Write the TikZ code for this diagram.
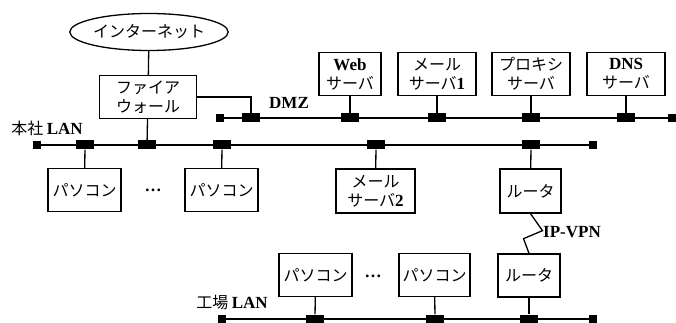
\documentclass[tikz,border=0pt]{standalone}
\usepackage{fontspec}
\setmainfont{Liberation Serif}
\newfontfamily\jp{Noto Sans CJK JP}
\usetikzlibrary{shapes.geometric}
\newcommand\en[1]{{\rmfamily\bfseries\fontsize{17}{19}\selectfont #1}}

\begin{document}
\begin{tikzpicture}[x=1pt, y=-1pt,
    font=\jp\fontsize{16}{19}\selectfont,
    box/.style={rectangle, draw, line width=1.3pt, minimum height=43, inner sep=1pt, align=center},
    lan/.style={line width=2.2pt},
    drop/.style={line width=1.3pt},
    tap/.style={rectangle, fill, minimum width=18, minimum height=9, inner sep=0pt},
    endpt/.style={rectangle, fill, minimum size=8, inner sep=0pt}
]
\useasboundingbox (0,0) rectangle (676,323);

% internet and firewall
\node[ellipse, draw, line width=1.3pt, minimum width=155, minimum height=37, inner sep=0pt] (inet) at (149,32) {インターネット};
\node[box, minimum width=97] (fw) at (148,97) {ファイア\\ウォール};
\draw[drop] (inet) -- (fw);

% DMZ segment
\node[box, minimum width=62] (web) at (350,74) {\en{Web}\\サーバ};
\node[box, minimum width=78] (mail1) at (437,74) {メール\\サーバ\en{1}};
\node[box, minimum width=78] (proxy) at (531,74) {プロキシ\\サーバ};
\node[box, minimum width=78] (dns) at (626,74) {\en{DNS}\\サーバ};

\node[endpt] (dmzL) at (220,118) {};
\node[endpt] (dmzR) at (672,118) {};
\draw[lan] (dmzL) -- (dmzR);
\node[anchor=west, inner sep=0pt] (dmzlbl) at (269,103) {\en{DMZ}};
\foreach \n/\x in {fw/251, web/350, mail1/437, proxy/531, dns/626}
  \node[tap] (dmz-\n) at (\x,118) {};
\draw[drop] (fw.east) -| (dmz-fw);
\foreach \n in {web, mail1, proxy, dns}
  \draw[drop] (\n) -- (dmz-\n);

% head office LAN
\node[endpt] (hqL) at (37,145) {};
\node[endpt] (hqR) at (593,145) {};
\draw[lan] (hqL) -- (hqR);
\node (hqlbl) at (47,128) {本社 \en{LAN}};
\node[box, minimum width=73] (pc1) at (84.5,190) {パソコン};
\node[box, minimum width=73] (pc2) at (221.5,190) {パソコン};
\node (dots1) at (153,190) {\en{\dots}};
\node[box, minimum width=79, minimum height=44] (mail2) at (375.5,191) {メール\\サーバ\en{2}};
\node[box, minimum width=61, minimum height=44] (rt1) at (530.5,191) {ルータ};
\node[tap] (hq-fw) at (147,145) {};
\draw[drop] (fw) -- (hq-fw);
\foreach \n/\x in {pc1/85, pc2/222, mail2/376, rt1/531} {
  \node[tap] (hq-\n) at (\x,145) {};
  \draw[drop] (\n) -- (hq-\n);
}

% factory LAN
\node[endpt] (fcL) at (222,319) {};
\node[endpt] (fcR) at (593,319) {};
\draw[lan] (fcL) -- (fcR);
\node (fclbl) at (232,303) {工場 \en{LAN}};
\node[box, minimum width=73] (pcA) at (315.5,275) {パソコン};
\node[box, minimum width=71] (pcB) at (434.5,275) {パソコン};
\node (dots2) at (373,276) {\en{\dots}};
\node[box, minimum width=62] (rt2) at (529,275.5) {ルータ};
\foreach \n/\x in {pcA/315, pcB/435, rt2/529} {
  \node[tap] (fc-\n) at (\x,319) {};
  \draw[drop] (\n) -- (fc-\n);
}

% IP-VPN link
\draw[drop] (rt1.south) -- ++(12,17) -- ++(-19,8) -- (rt2.north);
\node[anchor=west, inner sep=0pt] (vpnlbl) at (543,232) {\en{IP-VPN}};
\end{tikzpicture}
\end{document}
